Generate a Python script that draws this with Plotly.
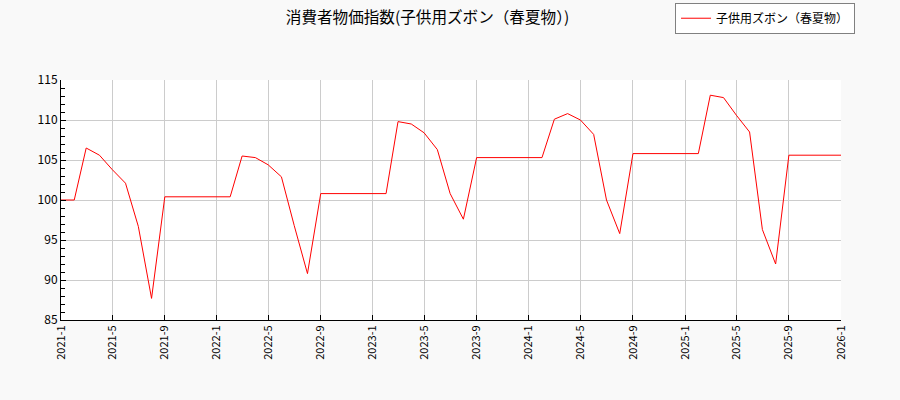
import plotly.graph_objects as go
import pandas as pd

# monthly index values, 2021-01 .. 2026-01
months = pd.date_range('2021-01-01', '2026-01-01', freq='MS')
values = [
    100.0, 100.0, 106.5, 105.6, 103.8, 102.1, 96.7, 87.7, 100.4, 100.4, 100.4, 100.4,
    100.4, 100.4, 105.5, 105.3, 104.4, 102.9, 96.8, 90.8, 100.8, 100.8, 100.8, 100.8,
    100.8, 100.8, 109.8, 109.5, 108.4, 106.3, 100.8, 97.6, 105.3, 105.3, 105.3, 105.3,
    105.3, 105.3, 110.1, 110.8, 110.0, 108.2, 100.0, 95.8, 105.8, 105.8, 105.8, 105.8,
    105.8, 105.8, 113.1, 112.8, 110.6, 108.5, 96.3, 92.0, 105.6, 105.6, 105.6, 105.6,
    105.6,
]
tick_dates = pd.date_range('2021-01-01', '2026-01-01', freq='4MS')
tick_labels = [f'{d.year}-{d.month}' for d in tick_dates]

series_name = '子供用ズボン（春夏物）'
title = '消費者物価指数(子供用ズボン（春夏物）)'

jp_font = 'Noto Sans CJK JP'
bg = '#f9f9f9'

fig = go.Figure(go.Scatter(
    x=months, y=values, mode='lines', name=series_name,
    line=dict(color='red', width=1)))

fig.update_layout(
    width=900, height=400,
    margin={'l': 61, 'r': 59, 't': 80, 'b': 80, 'autoexpand': False},
    paper_bgcolor=bg,
    plot_bgcolor='white',
    font=dict(family=jp_font, size=11, color='black'),
    title=dict(text=title, x=0.475, xanchor='center', y=0.955, yanchor='middle',
               font=dict(family=jp_font, size=15.6, color='black')),
    showlegend=True,
    legend=dict(x=1.018, xanchor='right', y=1.322, yanchor='top',
                bgcolor='white', bordercolor='#808080', borderwidth=1,
                itemwidth=30,
                font=dict(family=jp_font, size=12)),
)

fig.update_xaxes(
    range=[months[0], months[-1]],
    tickvals=tick_dates, ticktext=tick_labels, tickangle=-90,
    ticks='inside', ticklen=5, tickcolor='black',
    showgrid=True, gridcolor='#cccccc', gridwidth=1,
    showline=True, linecolor='black', linewidth=1, mirror=False,
    zeroline=False, tickfont=dict(size=11))

fig.update_yaxes(
    range=[85, 115], dtick=5,
    ticks='inside', ticklen=5, tickcolor='black',
    minor=dict(dtick=1, ticks='inside', ticklen=4, tickcolor='black', showgrid=False),
    showgrid=True, gridcolor='#cccccc', gridwidth=1,
    showline=True, linecolor='black', linewidth=1,
    zeroline=False, tickfont=dict(size=12))

# drop the browser's default body margin so the figure sits at the window origin
fig.write_html("out.html", config={'displayModeBar': False},
               post_script=f"document.body.style.margin='0';document.body.style.background='{bg}';")
